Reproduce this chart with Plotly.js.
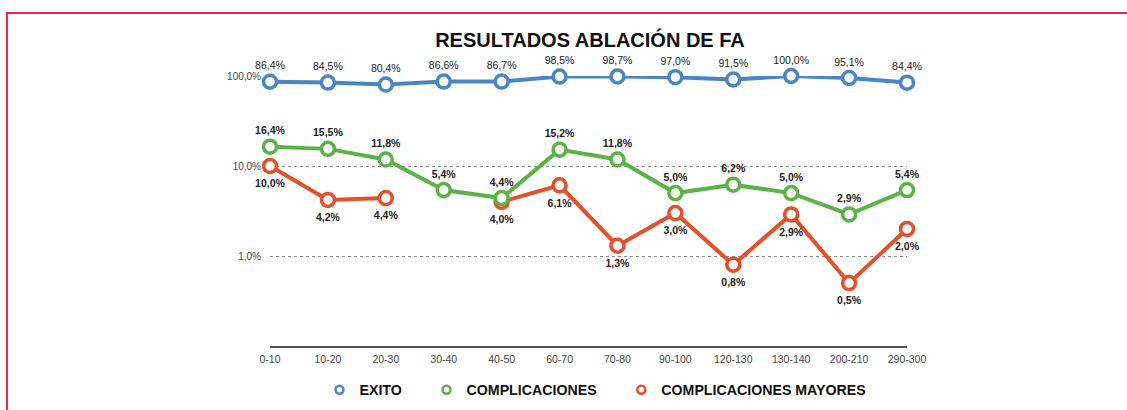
<!DOCTYPE html>
<html>
<head>
<meta charset="utf-8">
<script src="https://cdn.plot.ly/plotly-3.0.1.min.js"></script>
<style>
  html, body { margin: 0; padding: 0; background: #fff; }
  #chart { width: 1127px; height: 410px; }
  #frame { position: absolute; left: 6px; top: 12px; width: 1121px; height: 398px;
           border-top: 2px solid #ff1f3f; border-left: 2px solid #ff1f3f; pointer-events: none; box-sizing: border-box; }
</style>
</head>
<body>
<div id="chart"></div>
<div id="frame"></div>
<script>
const categories = ["0-10","10-20","20-30","30-40","40-50","60-70","70-80","90-100","120-130","130-140","200-210","290-300"];
const exito = [86.4, 84.5, 80.4, 86.6, 86.7, 98.5, 98.7, 97.0, 91.5, 100.0, 95.1, 84.4];
const complicaciones = [16.4, 15.5, 11.8, 5.4, 4.4, 15.2, 11.8, 5.0, 6.2, 5.0, 2.9, 5.4];
const mayores = [10.0, 4.2, 4.4, null, 4.0, 6.1, 1.3, 3.0, 0.8, 2.9, 0.5, 2.0];
const seriesNames = ["EXITO", "COMPLICACIONES", "COMPLICACIONES MAYORES"];
const yTickVals = [1, 10, 100];
const yTickText = ["1,0%", "10,0%", "100,0%"];

const colors = ["#4a86c6", "#5bb247", "#e4502b"];
const fmt = v => v == null ? "" : v.toFixed(1).replace(".", ",") + "%";
const font = "Liberation Sans, Arial, Helvetica, sans-serif";
const pad = "\u00a0\u00a0\u00a0\u00a0\u00a0";

function lineTrace(vals, i) {
  return {
    x: categories, y: vals, type: "scatter", mode: "lines+markers",
    name: seriesNames[i], showlegend: false, cliponaxis: false,
    line: {color: colors[i], width: 4},
    marker: {symbol: "circle", size: 13, color: "#fff", line: {color: colors[i], width: 3.5}},
    hoverinfo: "skip"
  };
}
function labelTrace(vals, pos, bold, size) {
  return {
    x: categories, y: vals, type: "scatter", mode: "markers+text",
    showlegend: false, cliponaxis: false,
    marker: {size: size, color: "rgba(0,0,0,0)", line: {width: 0}},
    text: vals.map(fmt), textposition: pos,
    textfont: {family: font, size: 10.5, color: "#222", weight: bold ? "bold" : "normal"},
    hoverinfo: "skip"
  };
}
function legendTrace(i) {
  return {
    x: [null], y: [null], type: "scatter", mode: "markers", name: seriesNames[i] + (i < 2 ? pad : ""),
    marker: {symbol: "circle-open", size: 8, color: colors[i], line: {width: 2.5}},
    showlegend: true
  };
}

const data = [
  lineTrace(exito, 0),
  lineTrace(mayores, 2),
  lineTrace(complicaciones, 1),
  labelTrace(exito, "top center", false, 14),
  labelTrace(complicaciones, "top center", true, 14),
  labelTrace(mayores, "bottom center", true, 20),
  legendTrace(0), legendTrace(1), legendTrace(2)
];

const layout = {
  width: 1127, height: 410,
  margin: {l: 270, r: 220, t: 76, b: 64, autoexpand: false},
  paper_bgcolor: "#fff", plot_bgcolor: "#fff",
  font: {family: font, color: "#333"},
  title: {text: "RESULTADOS ABLACIÓN DE FA", x: 0.5235, xref: "container", y: 0.902, yref: "container",
          xanchor: "center", yanchor: "middle",
          font: {family: font, size: 20, color: "#111", weight: "bold"}},
  xaxis: {type: "category", range: [0, 11], showgrid: false, zeroline: false,
          showline: true, linecolor: "#555", linewidth: 2, ticks: "",
          tickfont: {family: font, size: 10.5, color: "#444"}, ticklabelstandoff: 2},
  yaxis: {type: "log", range: [-1, 2], tickvals: yTickVals, ticktext: yTickText,
          showgrid: true, gridcolor: "#888", griddash: "dot", gridwidth: 1,
          zeroline: false, showline: false, ticks: "",
          tickfont: {family: font, size: 10, color: "#444"}, ticklabelstandoff: 8},
  legend: {orientation: "h", x: 0.511, xanchor: "center", y: -0.163, yanchor: "middle",
           font: {family: font, size: 14.2, color: "#111", weight: "bold"},
           itemwidth: 30, bgcolor: "rgba(0,0,0,0)"},
  showlegend: true
};

Plotly.newPlot("chart", data, layout, {displayModeBar: false, staticPlot: true});
</script>
</body>
</html>
